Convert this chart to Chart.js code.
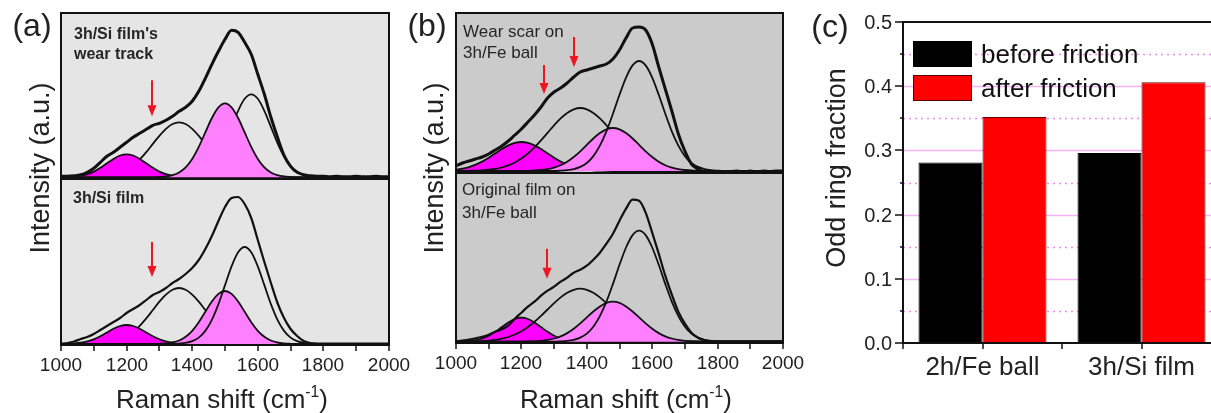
<!DOCTYPE html>
<html>
<head>
<meta charset="utf-8">
<script src="https://cdn.jsdelivr.net/npm/chart.js@4.4.0/dist/chart.umd.min.js"></script>
<style>
  html, body { margin: 0; padding: 0; background: #fff; overflow: hidden; width: 1211px; height: 413px; }
  body { position: relative; font-family: "Liberation Sans", Arial, sans-serif; color: #222; }
  canvas { position: absolute; }
  .lbl { position: absolute; white-space: nowrap; line-height: 1; }
  .ctr { transform: translate(-50%, -50%); }
  .rot { transform: translate(-50%, -50%) rotate(-90deg); }
  sup { font-size: 60%; position: relative; top: -0.1em; vertical-align: super; line-height: 0; }
</style>
</head>
<body>
<canvas id="aTop"></canvas>
<canvas id="aBot"></canvas>
<canvas id="bTop"></canvas>
<canvas id="bBot"></canvas>
<canvas id="ring"></canvas>

<div class="lbl ctr" style="left:32px;top:25px;font-size:32px">(a)</div>
<div class="lbl rot" style="left:40px;top:168px;font-size:27px">Intensity (a.u.)</div>
<div class="lbl ctr" style="left:222px;top:399px;font-size:26px">Raman shift (cm<sup>-1</sup>)</div>

<div class="lbl ctr" style="left:427px;top:25px;font-size:32px">(b)</div>
<div class="lbl rot" style="left:434px;top:168px;font-size:27px">Intensity (a.u.)</div>
<div class="lbl ctr" style="left:626px;top:399px;font-size:26px">Raman shift (cm<sup>-1</sup>)</div>

<div class="lbl ctr" style="left:830px;top:26px;font-size:32px">(c)</div>
<div class="lbl rot" style="left:836px;top:168px;font-size:27px">Odd ring fraction</div>

<script>
// ---- Raman spectra: sampling grid (cm-1) and x ticks ----
const shifts = [
  1000,1020,1040,1060,1080,1100,1120,1140,1160,1180,
  1200,1220,1240,1260,1280,1300,1320,1340,1360,1380,
  1400,1420,1440,1460,1480,1500,1520,1540,1560,1580,
  1600,1620,1640,1660,1680,1700,1720,1740,1760,1780,
  1800,1820,1840,1860,1880,1900,1920,1940,1960,1980,
  2000
];
const shiftTicks = [1000,1100,1200,1300,1400,1500,1600,1700,1800,1900,2000];

// (a) upper: 3h/Si film's wear track
const aTopSpectrum = [
  1,1,1.5,2.5,5,9,15,21,25,30,
  35,40,44,48,52,54,57,61,66,70,
  76,86,99,113,126,138,147,145,135,123,
  103,83,60,40,22,11,5,2.5,1.5,1,
  1,0.5,1,0.5,0.5,1,0.5,0.5,1,0.5,
  0.5
];
const aTopPeak1 = [
  0.1,0.3,0.7,1.5,3.1,5.7,9.5,14,18.4,21.8,
  23,21.8,18.4,14,9.5,5.7,3.1,1.5,0.7,0.3,
  0.1,0,0,0,0,0,0,0,0,0,
  0,0,0,0,0,0,0,0,0,0,
  0,0,0,0,0,0,0,0,0,0,
  0
];
const aTopPeak2 = [
  0,0,0,0,0,0.3,0.6,1.3,2.4,4.4,
  7.4,11.9,17.9,25.2,33.4,41.5,48.5,53.3,55,53.3,
  48.5,41.5,33.4,25.2,17.9,11.9,7.4,4.4,2.4,1.3,
  0.6,0.3,0,0,0,0,0,0,0,0,
  0,0,0,0,0,0,0,0,0,0,
  0
];
const aTopPeak3 = [
  0,0,0,0,0,0,0,0,0,0,
  0,0,0,0,0,0.3,0.8,2.1,4.9,10,
  18.4,30.4,44.9,59.3,70,74,70,59.3,44.9,30.4,
  18.4,10,4.9,2.1,0.8,0.3,0,0,0,0,
  0,0,0,0,0,0,0,0,0,0,
  0
];
const aTopPeak4 = [
  0,0,0,0,0,0,0,0,0,0,
  0,0,0,0,0,0,0,0,0,0.3,
  0.9,2.4,5.5,11.2,20.7,34.1,50.4,66.5,78.5,83,
  78.5,66.5,50.4,34.1,20.7,11.2,5.5,2.4,0.9,0.3,
  0,0,0,0,0,0,0,0,0,0,
  0
];

// (a) lower: 3h/Si film
const aBotSpectrum = [
  0.3,1,2.5,5,7,10,14,18,22,26,
  31,35,39,44,49,52,56,61,65,70,
  76,84,95,108,123,137,146,147,140,126,
  104,82,61,41,26,15,8,3,1,0.5,
  0.3,0.3,0.3,0.3,0.3,0.3,0.3,0.3,0.3,0.3,
  0.3
];
const aBotPeak1 = [
  0.1,0.2,0.6,1.3,2.6,4.7,7.8,11.5,15.2,18,
  19,18,15.2,11.5,7.8,4.7,2.6,1.3,0.6,0.2,
  0.1,0,0,0,0,0,0,0,0,0,
  0,0,0,0,0,0,0,0,0,0,
  0,0,0,0,0,0,0,0,0,0,
  0
];
const aBotPeak2 = [
  0,0,0,0,0,0.3,0.6,1.3,2.5,4.5,
  7.6,12.1,18.2,25.6,34,42.3,49.4,54.3,56,54.3,
  49.4,42.3,34,25.6,18.2,12.1,7.6,4.5,2.5,1.3,
  0.6,0.3,0,0,0,0,0,0,0,0,
  0,0,0,0,0,0,0,0,0,0,
  0
];
const aBotPeak3 = [
  0,0,0,0,0,0,0,0,0,0,
  0,0,0,0,0,0.2,0.6,1.5,3.5,7.2,
  13.2,21.8,32.2,42.5,50.1,53,50.1,42.5,32.2,21.8,
  13.2,7.2,3.5,1.5,0.6,0.2,0,0,0,0,
  0,0,0,0,0,0,0,0,0,0,
  0
];
const aBotPeak4 = [
  0,0,0,0,0,0,0,0,0,0,
  0,0,0,0,0,0,0,0,0.4,1.1,
  2.8,6.4,13.1,24.2,39.9,58.9,77.7,91.8,97,91.8,
  77.7,58.9,39.9,24.2,13.1,6.4,2.8,1.1,0.4,0,
  0,0,0,0,0,0,0,0,0,0,
  0
];

// (b) upper: wear scar on 3h/Fe ball
const bTopSpectrum = [
  5,8,10,12,14,17,21,25,30,36,
  42,49,56,64,73,79,83,88,94,99,
  101,103,105,107,112,121,133,143,144,141,
  127,104,82,60,37,20,7,2,-1,-1.5,
  -1,-1.5,-0.5,0,-1,0,-1,0,-0.5,0,
  0
];
const bTopPeak1 = [
  1.3,2.3,3.9,6.3,9.4,13.3,17.6,21.9,25.6,28.1,
  29,28.1,25.6,21.9,17.6,13.3,9.4,6.3,3.9,2.3,
  1.3,0.7,0.3,0.1,0,0,0,0,0,0,
  0,0,0,0,0,0,0,0,0,0,
  0,0,0,0,0,0,0,0,0,0,
  0
];
const bTopPeak2 = [
  0,0,0.2,0.4,0.7,1.3,2.1,3.5,5.6,8.5,
  12.5,17.5,23.6,30.7,38.2,45.7,52.6,58.1,61.7,63,
  61.7,58.1,52.6,45.7,38.2,30.7,23.6,17.5,12.5,8.5,
  5.6,3.5,2.1,1.3,0.7,0.4,0.2,0,0,0,
  0,0,0,0,0,0,0,0,0,0,
  0
];
const bTopPeak3 = [
  0,0,0,0,0,0,0,0,0,0,
  0,0.2,0.5,1,1.9,3.4,5.8,9.3,14,19.7,
  26.1,32.5,37.9,41.7,43,41.7,37.9,32.5,26.1,19.7,
  14,9.3,5.8,3.4,1.9,1,0.5,0.2,0,0,
  0,0,0,0,0,0,0,0,0,0,
  0
];
const bTopPeak4 = [
  0,0,0,0,0,0,0,0,0,0,
  0,0,0,0,0,0,0.3,0.8,1.9,4.1,
  8,14.9,25.3,39.6,57.3,76.2,93.4,105.6,110,105.6,
  93.4,76.2,57.3,39.6,25.3,14.9,8,4.1,1.9,0.8,
  0.3,0,0,0,0,0,0,0,0,0,
  0
];

// (b) lower: original film on 3h/Fe ball
const bBotSpectrum = [
  0.3,1,2,3.5,5,7,10,12.5,16,23,
  29,35,40,46,51,55,60,64,69,72,
  76,82,89,98,108,121,133,142,141,129,
  109,88,66,47,30,18,9,4,1.5,0.5,
  0.3,0.3,0.3,0.3,0.3,0.3,0.3,0.3,0.3,0.3,
  0.3
];
const bBotPeak1 = [
  0.1,0.3,0.7,1.6,3.2,6,9.9,14.6,19.2,22.7,
  24,22.7,19.2,14.6,9.9,6,3.2,1.6,0.7,0.3,
  0.1,0,0,0,0,0,0,0,0,0,
  0,0,0,0,0,0,0,0,0,0,
  0,0,0,0,0,0,0,0,0,0,
  0
];
const bBotPeak2 = [
  0,0,0.2,0.3,0.6,1.1,1.8,3,4.7,7.2,
  10.5,14.7,19.9,25.8,32.2,38.5,44.3,48.9,51.9,53,
  51.9,48.9,44.3,38.5,32.2,25.8,19.9,14.7,10.5,7.2,
  4.7,3,1.8,1.1,0.6,0.3,0.2,0,0,0,
  0,0,0,0,0,0,0,0,0,0,
  0
];
const bBotPeak3 = [
  0,0,0,0,0,0,0,0,0,0,
  0,0.2,0.4,0.9,1.8,3.2,5.4,8.6,13,18.3,
  24.3,30.2,35.3,38.8,40,38.8,35.3,30.2,24.3,18.3,
  13,8.6,5.4,3.2,1.8,0.9,0.4,0.2,0,0,
  0,0,0,0,0,0,0,0,0,0,
  0
];
const bBotPeak4 = [
  0,0,0,0,0,0,0,0,0,0,
  0,0,0,0,0,0,0.3,0.8,1.9,4.1,
  8.1,15,25.5,40,57.8,76.9,94.2,106.6,111,106.6,
  94.2,76.9,57.8,40,25.5,15,8.1,4.1,1.9,0.8,
  0.3,0,0,0,0,0,0,0,0,0,
  0
];

// ---- (c) odd ring fraction ----
const samples = ['2h/Fe ball', '3h/Si film'];
const seriesNames = ['before friction', 'after friction'];
const beforeFriction = [0.281, 0.296];
const afterFriction = [0.352, 0.406];
const fractionTicks = [0, 0.05, 0.1, 0.15, 0.2, 0.25, 0.3, 0.35, 0.4, 0.45, 0.5];

const FONT = '"Liberation Sans", Arial, sans-serif';
const MAGENTA = '#ff00ff';
const PINK = '#ff80ff';
const INK = '#111';

// one curve of a spectrum; fillColor shades the band down to the baseline
function curve(ys, width, fillColor) {
  return {
    data: ys.map((y, i) => ({ x: shifts[i], y })),
    borderColor: INK,
    borderWidth: width,
    backgroundColor: fillColor || 'transparent',
    fill: fillColor ? 'origin' : false
  };
}

// datasets are given bottom layer first
function layered(list) {
  return list.map((d, i) => Object.assign(d, { order: list.length - i }));
}

function spectrumPlugin(cfg) {
  return {
    id: 'spectrumPanel',
    beforeDraw(chart) {
      const { ctx, chartArea: a } = chart;
      ctx.save();
      ctx.fillStyle = cfg.background;
      ctx.fillRect(a.left, a.top, a.width, a.height);
      ctx.restore();
    },
    afterDatasetsDraw(chart) {
      const { ctx, chartArea: a, scales: { x, y } } = chart;
      ctx.save();
      // red arrows
      ctx.strokeStyle = '#ee1620';
      ctx.fillStyle = '#ee1620';
      ctx.lineWidth = 2;
      (cfg.arrows || []).forEach(([wn, from, to]) => {
        const px = Math.round(x.getPixelForValue(wn));
        const y0 = y.getPixelForValue(from), y1 = y.getPixelForValue(to);
        ctx.beginPath();
        ctx.moveTo(px, y0);
        ctx.lineTo(px, y1 - 8);
        ctx.stroke();
        ctx.beginPath();
        ctx.moveTo(px - 4.5, y1 - 11);
        ctx.lineTo(px + 4.5, y1 - 11);
        ctx.lineTo(px, y1);
        ctx.closePath();
        ctx.fill();
      });
      // sample captions
      ctx.fillStyle = '#262626';
      ctx.textBaseline = 'alphabetic';
      ctx.textAlign = 'left';
      (cfg.notes || []).forEach(([text, dx, dy, font]) => {
        ctx.font = font;
        ctx.fillText(text, a.left + dx, a.top + dy);
      });
      ctx.restore();
    },
    afterDraw(chart) {
      const { ctx, chartArea: a, scales: { x } } = chart;
      ctx.save();
      ctx.strokeStyle = INK;
      ctx.lineWidth = 2;
      ctx.strokeRect(a.left, a.top, a.width, a.height);
      if (cfg.xTicks) {
        ctx.lineWidth = 1.5;
        ctx.fillStyle = '#222';
        ctx.font = '19px ' + FONT;
        ctx.textAlign = 'center';
        ctx.textBaseline = 'middle';
        shiftTicks.forEach(v => {
          const px = Math.round(x.getPixelForValue(v));
          ctx.beginPath();
          ctx.moveTo(px, a.bottom);
          ctx.lineTo(px, a.bottom + 6);
          ctx.stroke();
          if (v % 200 === 0) ctx.fillText(String(v), px, a.bottom + 21);
        });
      }
      ctx.restore();
    }
  };
}

// box = plot frame in page pixels
function spectrumChart(id, box, cfg) {
  const cv = document.getElementById(id);
  const m = { l: 25, r: 25, t: 5, b: cfg.xTicks ? 45 : 5 };
  cv.width = box.w + m.l + m.r;
  cv.height = box.h + m.t + m.b;
  cv.style.left = (box.x - m.l) + 'px';
  cv.style.top = (box.y - m.t) + 'px';
  return new Chart(cv, {
    type: 'line',
    data: { datasets: cfg.datasets },
    options: {
      responsive: false,
      animation: false,
      events: [],
      layout: { padding: { left: m.l, right: m.r, top: m.t, bottom: m.b } },
      elements: {
        point: { radius: 0 },
        line: { cubicInterpolationMode: 'monotone' }
      },
      scales: {
        x: { type: 'linear', display: false, min: 1000, max: 2000 },
        y: { display: false, min: cfg.yMin, max: cfg.yMax }
      },
      plugins: { legend: { display: false }, tooltip: { enabled: false } }
    },
    plugins: [spectrumPlugin(cfg)]
  });
}

const boldNote = 'bold 16px ' + FONT;
const plainNote = '17px ' + FONT;
const FIT_W = 1.8;

spectrumChart('aTop', { x: 61, y: 13, w: 328, h: 166 }, {
  background: '#e5e5e5', yMin: -1.7, yMax: 164.3,
  datasets: layered([
    curve(aTopPeak2, FIT_W),
    curve(aTopPeak1, FIT_W, MAGENTA),
    curve(aTopPeak4, FIT_W),
    curve(aTopPeak3, FIT_W, PINK),
    curve(aTopSpectrum, 3)
  ]),
  arrows: [[1277, 97, 61]],
  notes: [["3h/Si film's", 13, 26, boldNote], ['wear track', 13, 46, boldNote]]
});

spectrumChart('aBot', { x: 61, y: 179, w: 328, h: 166 }, {
  background: '#e5e5e5', yMin: -1, yMax: 165, xTicks: true,
  datasets: layered([
    curve(aBotPeak2, FIT_W),
    curve(aBotPeak1, FIT_W, MAGENTA),
    curve(aBotPeak3, FIT_W, PINK),
    curve(aBotPeak4, FIT_W),
    curve(aBotSpectrum, 2.2)
  ]),
  arrows: [[1277, 102, 67]],
  notes: [['3h/Si film', 12, 23.5, boldNote]]
});

spectrumChart('bTop', { x: 456, y: 13, w: 327, h: 160 }, {
  background: '#cbcbcb', yMin: -2, yMax: 158,
  datasets: layered([
    curve(bTopPeak1, FIT_W, MAGENTA),
    curve(bTopPeak2, FIT_W),
    curve(bTopPeak3, FIT_W, PINK),
    curve(bTopPeak4, FIT_W),
    curve(bTopSpectrum, 3)
  ]),
  arrows: [[1270, 106, 77], [1362, 134, 104]],
  notes: [['Wear scar on', 7, 23.5, plainNote], ['3h/Fe ball', 7, 45, plainNote]]
});

spectrumChart('bBot', { x: 456, y: 173, w: 327, h: 170 }, {
  background: '#cbcbcb', yMin: -1.3, yMax: 168.7, xTicks: true,
  datasets: layered([
    curve(bBotPeak1, FIT_W, MAGENTA),
    curve(bBotPeak2, FIT_W),
    curve(bBotPeak3, FIT_W, PINK),
    curve(bBotPeak4, FIT_W),
    curve(bBotSpectrum, 2.2)
  ]),
  arrows: [[1279, 93, 63]],
  notes: [['Original film on', 6, 21.5, plainNote], ['3h/Fe ball', 6, 44.5, plainNote]]
});

// ---- (c) bar chart ----
const isMajor = v => Math.round(v * 100) % 10 === 0;

const ringPanel = {
  id: 'ringPanel',
  beforeDatasetsDraw(chart) {
    const { ctx, chartArea: a, scales: { y } } = chart;
    ctx.save();
    fractionTicks.forEach(v => {
      if (v <= 0 || v >= 0.5) return;
      const py = Math.round(y.getPixelForValue(v)) + 0.5;
      const major = isMajor(v);
      ctx.strokeStyle = major ? '#f6b4f6' : '#f08af0';
      ctx.lineWidth = 1.5;
      ctx.setLineDash(major ? [] : [2, 4]);
      ctx.beginPath();
      ctx.moveTo(a.left, py);
      ctx.lineTo(a.right, py);
      ctx.stroke();
    });
    ctx.restore();
  },
  afterDatasetsDraw(chart) {
    const { ctx, chartArea: a, scales: { x, y } } = chart;
    ctx.save();
    // axes frame
    ctx.strokeStyle = INK;
    ctx.lineWidth = 2;
    ctx.strokeRect(a.left, a.top, a.width, a.height);

    // y ticks and labels
    ctx.lineWidth = 1.5;
    ctx.fillStyle = '#222';
    ctx.font = '20px ' + FONT;
    ctx.textAlign = 'right';
    ctx.textBaseline = 'middle';
    fractionTicks.forEach(v => {
      const py = Math.round(y.getPixelForValue(v));
      const len = isMajor(v) ? 8 : 3;
      ctx.beginPath();
      ctx.moveTo(a.left - len, py);
      ctx.lineTo(a.left, py);
      ctx.stroke();
      if (isMajor(v)) ctx.fillText(v.toFixed(1), a.left - 11, py + 1);
    });

    // x ticks at group centres and group borders
    const step = a.width / samples.length;
    const marks = [a.left];
    samples.forEach((s, i) => {
      marks.push(x.getPixelForValue(i));
      marks.push(a.left + step * (i + 1));
    });
    marks.forEach(px => {
      ctx.beginPath();
      ctx.moveTo(Math.round(px), a.bottom);
      ctx.lineTo(Math.round(px), a.bottom + 6);
      ctx.stroke();
    });
    ctx.font = '26px ' + FONT;
    ctx.textAlign = 'center';
    samples.forEach((s, i) => ctx.fillText(s, x.getPixelForValue(i), a.bottom + 25));

    // legend
    ctx.textAlign = 'left';
    chart.data.datasets.forEach((ds, i) => {
      const bx = a.left + 10, by = a.top + 19 + i * 34;
      ctx.fillStyle = ds.backgroundColor;
      ctx.fillRect(bx, by, 59, 26);
      ctx.strokeStyle = ds.borderColor;
      ctx.lineWidth = 1;
      ctx.strokeRect(bx + 0.5, by + 0.5, 58, 25);
      ctx.fillStyle = '#111';
      ctx.fillText(ds.label, bx + 68, by + 15);
    });
    ctx.restore();
  }
};

(function () {
  const cv = document.getElementById('ring');
  const box = { x: 903, y: 22, w: 318, h: 321 };
  const m = { l: 125, r: 20, t: 22, b: 70 };
  cv.width = box.w + m.l + m.r;
  cv.height = box.h + m.t + m.b;
  cv.style.left = (box.x - m.l) + 'px';
  cv.style.top = (box.y - m.t) + 'px';
  new Chart(cv, {
    type: 'bar',
    data: {
      labels: samples,
      datasets: [
        { label: seriesNames[0], data: beforeFriction, backgroundColor: '#000000', borderColor: '#000000', borderWidth: 1 },
        { label: seriesNames[1], data: afterFriction, backgroundColor: '#ff0000', borderColor: '#5a0000', borderWidth: 1 }
      ]
    },
    options: {
      responsive: false,
      animation: false,
      events: [],
      layout: { padding: { left: m.l, right: m.r, top: m.t, bottom: m.b } },
      datasets: { bar: { barPercentage: 1, categoryPercentage: 0.805 } },
      scales: {
        x: { display: false, offset: true },
        y: { display: false, min: 0, max: 0.5 }
      },
      plugins: { legend: { display: false }, tooltip: { enabled: false } }
    },
    plugins: [ringPanel]
  });
})();
</script>
</body>
</html>
